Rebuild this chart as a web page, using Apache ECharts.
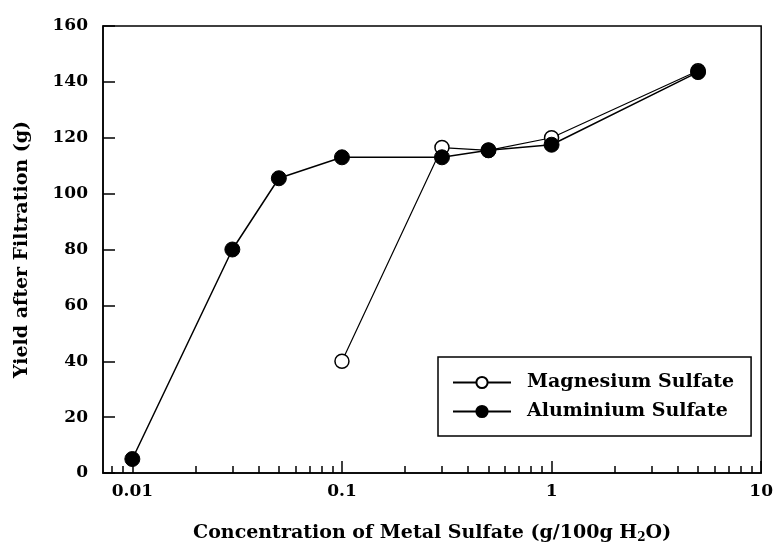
<!DOCTYPE html>
<html>
<head>
<meta charset="utf-8">
<script src="https://cdn.jsdelivr.net/npm/echarts@6/dist/echarts.min.js"></script>
<style>
  html, body { margin: 0; padding: 0; background: #fff; }
  #main { width: 776px; height: 549px; }
</style>
</head>
<body>
<div id="main"></div>
<script>
   // data
   var magConc = [0.1, 0.3, 0.5, 1, 5];
   var magYield = [40, 116.5, 115.5, 120, 144];
   var aluConc = [0.01, 0.03, 0.05, 0.1, 0.3, 0.5, 1, 5];
   var aluYield = [5, 80, 105.5, 113, 113, 115.5, 117.5, 143.5];

   var xTickValues = [0.01, 0.1, 1, 10];
   var xTickLabels = ['0.01', '0.1', '1', '10'];
   var xMinorValues = [0.008, 0.009, 0.02, 0.03, 0.04, 0.05, 0.06, 0.07, 0.08, 0.09,
                       0.2, 0.3, 0.4, 0.5, 0.6, 0.7, 0.8, 0.9,
                       2, 3, 4, 5, 6, 7, 8, 9];

   var fontFam = '"DejaVu Serif", "Liberation Serif", serif';

   function lg(v) { return Math.log10(v); }
   function pairs(xs, ys) {
       return xs.map(function (x, i) { return [lg(x), ys[i]]; });
   }

   var myChart = echarts.init(document.getElementById('main'));

   var xMin = -2.14, xMax = 1;

   var option = {
       backgroundColor: '#fff',
       animation: false,
       grid: {
           left: 103, right: 13, top: 26, bottom: 75,
           show: true, borderColor: '#000', borderWidth: 1.5
       },
       legend: {
           orient: 'vertical',
           left: 438, top: 357,
           padding: [16, 17, 15, 14],
           itemGap: 10,
           itemWidth: 58, itemHeight: 14,
           borderColor: '#000', borderWidth: 1.5,
           textStyle: { fontFamily: fontFam, fontWeight: 'bold', fontSize: 19, color: '#000', padding: [0, 0, 0, 11] },
           data: ['Magnesium Sulfate', 'Aluminium Sulfate']
       },
       xAxis: [{
           type: 'value',
           min: xMin, max: xMax,
           name: 'Concentration of Metal Sulfate (g/100g H{sub|2}O)',
           nameLocation: 'middle',
           nameGap: 49,
           nameTextStyle: {
               fontFamily: fontFam, fontWeight: 'bold', fontSize: 19, color: '#000',
               rich: {
                   sub: { fontFamily: fontFam, fontWeight: 'bold', fontSize: 12, color: '#000', padding: [10, 0, 0, 0] }
               }
           },
           splitLine: { show: false },
           axisLine: { show: true, onZero: false, lineStyle: { color: '#000', width: 1.5 } },
           axisTick: {
               show: true, inside: true, length: 12,
               customValues: xTickValues.map(lg),
               lineStyle: { color: '#000', width: 1.5 }
           },
           axisLabel: {
               customValues: xTickValues.map(lg),
               margin: 10,
               fontFamily: fontFam, fontWeight: 'bold', fontSize: 17, color: '#000',
               formatter: function (v) {
                   for (var i = 0; i < xTickValues.length; i++) {
                       if (Math.abs(lg(xTickValues[i]) - v) < 1e-6) return xTickLabels[i];
                   }
                   return '';
               }
           }
       }, {
           type: 'value',
           position: 'bottom',
           min: xMin, max: xMax,
           splitLine: { show: false },
           axisLine: { show: false, onZero: false },
           axisLabel: { show: false },
           axisTick: {
               show: true, inside: true, length: 7,
               customValues: xMinorValues.map(lg),
               lineStyle: { color: '#000', width: 1.5 }
           }
       }],
       yAxis: {
           type: 'value',
           min: 0, max: 160, interval: 20,
           name: 'Yield after Filtration (g)',
           nameLocation: 'middle',
           nameGap: 71,
           nameTextStyle: { fontFamily: fontFam, fontWeight: 'bold', fontSize: 19, color: '#000' },
           splitLine: { show: false },
           axisLine: { show: true, onZero: false, lineStyle: { color: '#000', width: 1.5 } },
           axisTick: { show: true, inside: true, length: 12, lineStyle: { color: '#000', width: 1.5 } },
           axisLabel: {
               margin: 15,
               fontFamily: fontFam, fontWeight: 'bold', fontSize: 17, color: '#000'
           }
       },
       series: [{
           name: 'Magnesium Sulfate',
           type: 'line',
           data: pairs(magConc, magYield),
           symbol: 'circle',
           symbolSize: 14,
           itemStyle: { color: '#fff', borderColor: '#000', borderWidth: 1.5 },
           lineStyle: { color: '#000', width: 1.2 },
           z: 3
       }, {
           name: 'Aluminium Sulfate',
           type: 'line',
           data: pairs(aluConc, aluYield),
           symbol: 'circle',
           symbolSize: 15,
           itemStyle: { color: '#000', borderColor: '#000', borderWidth: 1 },
           lineStyle: { color: '#000', width: 1.5 },
           z: 4
       }]
   };

   myChart.setOption(option);
</script>
</body>
</html>
